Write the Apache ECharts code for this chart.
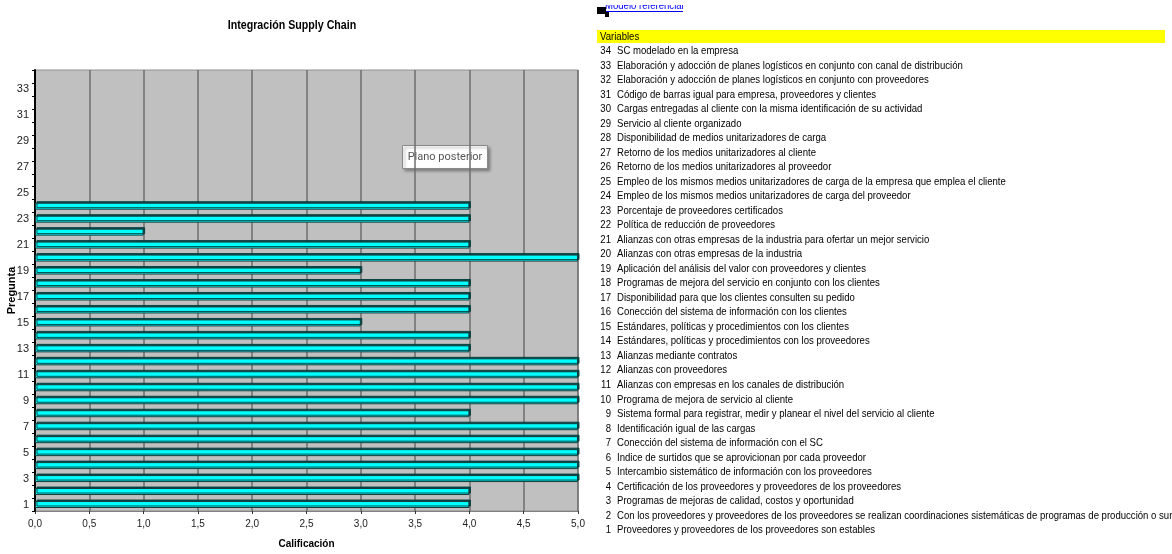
<!DOCTYPE html>
<html>
<head>
<meta charset="utf-8">
<script src="https://cdn.jsdelivr.net/npm/echarts@6/dist/echarts.min.js"></script>
<style>
  html, body { margin: 0; padding: 0; background: #fff; }
  #main { width: 1172px; height: 554px; }
</style>
</head>
<body>
<div id="main"></div>
<script>
var myChart = echarts.init(document.getElementById('main'))

// preguntas 1..34 (eje vertical)
var preguntas = ['1','2','3','4','5','6','7','8','9','10','11','12','13','14','15','16','17',
                 '18','19','20','21','22','23','24','25','26','27','28','29','30','31','32','33','34']
// calificacion por pregunta, null = sin barra
var calificacion = [4,4,5,5,5,5,5,4,5,5,5,5,4,4,3,4,4,4,3,5,4,1,4,4,
                    null,null,null,null,null,null,null,null,null,null]
// textos de la lista de variables (34 -> 1)
var variables = [
  'SC modelado en la empresa',
  'Elaboración y adocción de planes logísticos en conjunto con canal de distribución',
  'Elaboración y adocción de planes logísticos en conjunto con proveedores',
  'Código de barras igual para empresa, proveedores y clientes',
  'Cargas entregadas al cliente con la misma identificación de su actividad',
  'Servicio al cliente organizado',
  'Disponibilidad de medios unitarizadores de carga',
  'Retorno de los medios unitarizadores al cliente',
  'Retorno de los medios unitarizadores al proveedor',
  'Empleo de los mismos medios unitarizadores de carga de la empresa que emplea el cliente',
  'Empleo de los mismos medios unitarizadores de carga del proveedor',
  'Porcentaje de proveedores certificados',
  'Política de reducción de proveedores',
  'Alianzas con otras empresas de la industria para ofertar un mejor servicio',
  'Alianzas con otras empresas de la industria',
  'Aplicación del análisis del valor con proveedores y clientes',
  'Programas de mejora del servicio en conjunto con los clientes',
  'Disponibilidad para que los clientes consulten su pedido',
  'Conección del sistema de información con los clientes',
  'Estándares, políticas y procedimientos con los clientes',
  'Estándares, políticas y procedimientos con los proveedores',
  'Alianzas mediante contratos',
  'Alianzas con proveedores',
  'Alianzas con empresas en los canales de distribución',
  'Programa de mejora de servicio al cliente',
  'Sistema formal para registrar, medir y planear el nivel del servicio al cliente',
  'Identificación igual de las cargas',
  'Conección del sistema de información con el SC',
  'Indice de surtidos que se aprovicionan por cada proveedor',
  'Intercambio sistemático de información con los proveedores',
  'Certificación de los proveedores y proveedores de los proveedores',
  'Programas de mejoras de calidad, costos y oportunidad',
  'Con los proveedores y proveedores de los proveedores se realizan coordinaciones sistemáticas de programas de producción o suministro',
  'Proveedores y proveedores de los proveedores son estables'
]

var arial = '"Liberation Sans", Arial, sans-serif'

// texto angosto: se escala en x desde el punto de anclaje
function narrowText(x, y, txt, size, align, color, weight, sq) {
  return {
    type: 'text', x: x, y: y, scaleX: sq || 0.87, scaleY: 1,
    style: { x: 0, y: 0, text: txt, font: (weight || 'normal') + ' ' + size + 'px ' + arial,
             fill: color || '#000', textAlign: align, textVerticalAlign: 'middle' }
  }
}

var listItems = []

// titulo
listItems.push(narrowText(292, 25, 'Integración Supply Chain', 13, 'center', '#000', 'bold', 0.82))

// lista de variables a la derecha
listItems.push({
  type: 'rect', shape: { x: 597, y: 30, width: 568, height: 13 },
  style: { fill: '#ffff00' }, silent: true
})
listItems.push(narrowText(600, 37, 'Variables', 11, 'left'))
variables.forEach(function (txt, i) {
  var y = 51 + i * 14.52
  listItems.push(narrowText(611, y, String(34 - i), 11, 'right'))
  listItems.push(narrowText(617, y, txt, 11, 'left'))
})

// enlace cortado arriba
listItems.push(narrowText(605, 6, 'Modelo referencial', 11, 'left', '#0000ff'))
listItems.push({ type: 'rect', shape: { x: 600, y: 0, width: 100, height: 5 }, style: { fill: '#fff' } })
listItems.push({ type: 'line', shape: { x1: 604, y1: 11.5, x2: 683, y2: 11.5 }, style: { stroke: '#0000ff', lineWidth: 1 } })
listItems.push({ type: 'rect', shape: { x: 597, y: 7, width: 9, height: 7 }, style: { fill: '#000' } })
listItems.push({ type: 'rect', shape: { x: 605, y: 12, width: 4, height: 5 }, style: { fill: '#000' } })

// etiqueta "Plano posterior"
listItems.push({
  type: 'group', left: 402, top: 145,
  children: [
    { type: 'rect', shape: { x: 0, y: 0, width: 85, height: 23 },
      style: { fill: '#fff', stroke: '#8a8a8a', lineWidth: 1, shadowColor: 'rgba(0,0,0,0.35)', shadowBlur: 3, shadowOffsetX: 2, shadowOffsetY: 2 } },
    { type: 'text', style: { x: 42.5, y: 12, text: 'Plano posterior', font: '11px Roboto, "Liberation Sans", sans-serif',
        fill: '#555', textAlign: 'center', textVerticalAlign: 'middle' } }
  ]
})

var option = {
  animation: false,
  grid: { left: 35, right: 594, top: 70, bottom: 40, show: true, backgroundColor: '#c0c0c0', borderColor: '#909090', borderWidth: 1 },
  xAxis: {
    type: 'value', min: 0, max: 5, interval: 0.5,
    name: 'Calificación', nameLocation: 'middle', nameGap: 28,
    nameTextStyle: { fontFamily: arial, fontSize: 10, fontWeight: 'bold', color: '#000' },
    axisLine: { show: true, lineStyle: { color: '#808080', width: 1 } },
    axisTick: { show: true, length: 3, lineStyle: { color: '#333' } },
    axisLabel: {
      color: '#222', fontSize: 10, fontFamily: arial, margin: 8,
      formatter: function (v) { return v.toFixed(1).replace('.', ',') }
    },
    splitLine: { show: true, lineStyle: { color: '#6e6e6e', width: 1.5 } }
  },
  yAxis: {
    type: 'category', data: preguntas,
    name: 'Pregunta', nameLocation: 'middle', nameGap: 18, nameRotate: 90, nameMoveOverlap: false,
    nameTextStyle: { fontFamily: arial, fontSize: 11, fontWeight: 'bold', color: '#000', padding: 0 },
    axisLine: { show: true, lineStyle: { color: '#000', width: 2 } },
    axisTick: { show: true, length: 3, interval: 0, lineStyle: { color: '#000' } },
    axisLabel: { interval: 1, color: '#222', fontSize: 11, fontFamily: arial, margin: 6 },
    splitLine: { show: false }
  },
  series: [{
    name: 'Calificación',
    type: 'bar',
    data: calificacion,
    barWidth: 7,
    itemStyle: {
      color: '#00ffff',
      borderColor: '#163c3c',
      borderWidth: 1,
      shadowColor: 'rgba(0,60,60,0.9)',
      shadowOffsetX: 1.5,
      shadowOffsetY: -1.5,
      shadowBlur: 0
    }
  }],
  graphic: { elements: listItems }
}

myChart.setOption(option, true)
</script>
</body>
</html>
